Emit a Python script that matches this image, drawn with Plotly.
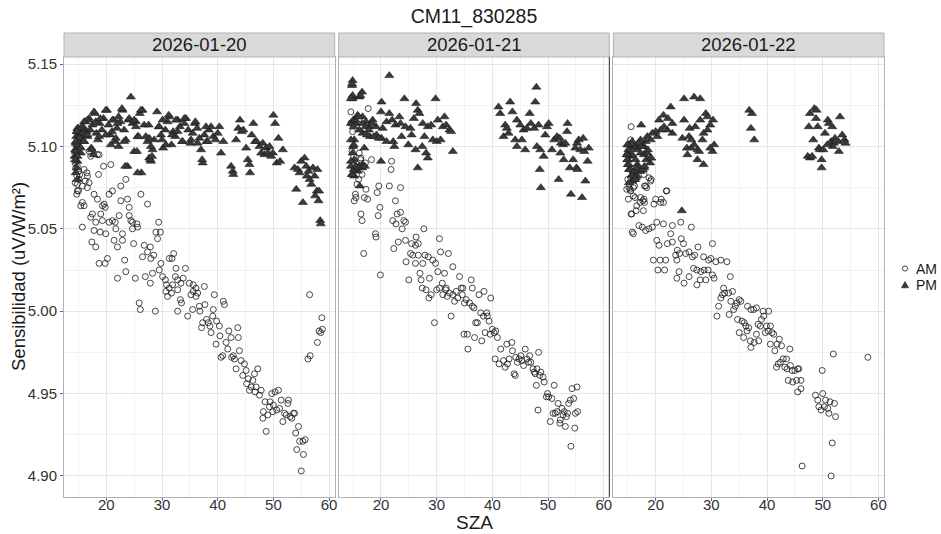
import plotly.graph_objects as go

title_text = "CM11_830285"
dates = ["2026-01-20", "2026-01-21", "2026-01-22"]
x_ticks = [20, 30, 40, 50, 60]
y_ticks = [4.90, 4.95, 5.00, 5.05, 5.10, 5.15]
legend_labels = ["AM", "PM"]

# ---- 2026-01-20 ----
am_0120 = [
    (14.4, 5.090), (14.5, 5.087), (14.7, 5.082), (14.4, 5.078), (15.1, 5.080), (15.2, 5.083), (14.8, 5.077), (15.0, 5.073),
    (14.8, 5.088), (15.0, 5.085), (16.0, 5.086), (16.5, 5.084), (16.6, 5.082), (16.9, 5.078), (16.6, 5.075), (16.2, 5.079),
    (15.7, 5.076), (14.8, 5.073), (14.7, 5.071), (15.7, 5.066), (16.0, 5.064), (15.4, 5.064),
    (16.9, 5.097), (17.2, 5.094), (18.7, 5.095), (18.4, 5.095), (19.5, 5.088), (20.8, 5.089), (18.6, 5.083),
    (17.8, 5.071), (18.4, 5.068), (19.3, 5.064), (19.8, 5.063), (19.6, 5.065), (20.5, 5.071), (21.1, 5.073), (22.6, 5.076),
    (23.5, 5.080), (23.8, 5.068), (22.6, 5.067), (24.1, 5.063), (26.2, 5.071), (27.4, 5.065),
    (19.0, 5.059), (17.5, 5.059), (17.2, 5.057), (18.1, 5.054), (19.3, 5.055), (20.5, 5.054), (21.1, 5.055), (21.6, 5.054),
    (22.3, 5.058), (24.1, 5.058), (24.4, 5.055), (24.7, 5.054), (25.5, 5.053), (29.4, 5.054),
    (15.7, 5.051), (17.8, 5.049), (18.9, 5.048), (19.9, 5.047), (21.7, 5.050), (22.9, 5.047), (24.7, 5.050), (25.6, 5.051),
    (28.9, 5.048), (29.7, 5.048), (29.2, 5.044),
    (17.4, 5.042), (18.1, 5.039), (21.4, 5.043), (22.9, 5.043), (22.0, 5.039), (24.9, 5.041), (26.8, 5.040), (27.9, 5.039),
    (27.4, 5.036), (26.5, 5.033), (28.0, 5.032), (28.5, 5.034), (29.8, 5.029), (31.3, 5.032), (32.1, 5.035), (31.8, 5.032),
    (18.7, 5.029), (19.8, 5.029), (20.2, 5.032), (23.3, 5.031),
    (22.0, 5.020), (23.5, 5.024), (25.2, 5.020), (27.0, 5.021), (27.9, 5.017), (28.3, 5.023), (29.5, 5.025), (30.1, 5.021),
    (30.6, 5.019), (30.8, 5.016), (31.3, 5.014), (32.5, 5.026), (32.4, 5.021), (32.8, 5.019), (33.4, 5.017), (33.8, 5.020),
    (34.2, 5.026), (34.9, 5.017), (35.6, 5.016), (36.1, 5.014), (37.6, 5.015), (31.9, 5.016), (32.8, 5.013),
    (25.9, 5.005), (26.1, 5.001), (28.8, 5.000), (30.7, 5.012), (31.0, 5.009), (31.7, 5.011), (32.8, 5.000),
    (33.3, 5.007), (33.5, 5.005), (34.6, 4.997), (35.2, 5.010), (35.5, 5.001), (35.6, 5.012), (36.1, 5.009), (36.4, 5.011),
    (36.7, 5.003), (36.8, 5.000), (37.1, 4.990), (37.3, 4.993), (37.7, 5.004), (38.0, 4.995), (38.3, 4.993), (38.6, 4.991),
    (38.8, 4.987), (39.1, 4.997), (39.2, 5.001), (39.4, 5.010), (39.7, 4.980), (39.8, 4.994), (40.3, 4.991), (40.4, 4.985),
    (40.6, 4.972), (40.9, 4.973), (41.0, 5.006), (41.2, 5.004), (41.5, 4.981), (41.8, 4.977), (42.0, 4.988), (42.4, 4.984),
    (42.5, 4.972), (42.8, 4.973), (43.0, 4.971), (43.3, 4.965), (43.6, 4.990), (43.7, 4.984), (43.9, 4.976), (44.2, 4.970),
    (44.5, 4.961), (44.8, 4.968), (45.1, 4.964), (45.2, 4.956), (45.5, 4.959), (45.7, 4.952), (46.0, 4.954), (46.3, 4.958),
    (46.6, 4.962), (46.7, 4.951), (46.9, 4.954), (47.2, 4.965), (47.5, 4.949), (47.8, 4.952), (48.1, 4.935), (48.2, 4.939),
    (48.5, 4.945), (48.7, 4.927), (49.0, 4.937), (49.3, 4.942), (49.4, 4.945), (49.7, 4.950), (49.9, 4.939), (50.0, 4.943),
    (50.3, 4.951), (50.6, 4.940), (50.9, 4.952), (51.1, 4.941), (51.4, 4.946), (51.7, 4.933), (52.0, 4.938), (52.3, 4.937),
    (52.6, 4.944), (52.7, 4.946), (53.0, 4.936), (53.3, 4.935), (53.6, 4.938), (53.8, 4.938), (54.0, 4.926), (54.2, 4.916),
    (54.5, 4.930), (54.7, 4.921), (55.0, 4.903), (55.3, 4.921), (55.4, 4.913), (55.7, 4.922), (56.2, 4.971), (56.5, 5.010),
    (56.6, 4.973), (57.9, 4.981), (58.2, 4.988), (58.5, 4.987), (58.7, 4.996), (58.8, 4.989),
]
pm_0120 = [
    (14.3, 5.094), (14.4, 5.098), (14.5, 5.102), (14.6, 5.106), (14.7, 5.109), (14.8, 5.091), (14.9, 5.104), (15.0, 5.111),
    (15.1, 5.107), (15.2, 5.100), (15.3, 5.110), (15.4, 5.096), (15.5, 5.105), (15.6, 5.108), (15.8, 5.112), (16.0, 5.103),
    (16.2, 5.115), (16.4, 5.109), (16.6, 5.106), (16.9, 5.117), (17.1, 5.110), (17.3, 5.099), (17.5, 5.113), (17.7, 5.095),
    (17.9, 5.120), (18.2, 5.108), (18.5, 5.104), (18.8, 5.114), (19.2, 5.110), (19.5, 5.117), (20.1, 5.122), (20.4, 5.113),
    (20.7, 5.107), (21.0, 5.109), (21.3, 5.116), (21.6, 5.103), (21.9, 5.111), (22.2, 5.100), (22.5, 5.115), (22.9, 5.122),
    (23.2, 5.110), (23.5, 5.104), (23.8, 5.088), (24.0, 5.116), (24.4, 5.130), (24.7, 5.114), (25.0, 5.097), (25.3, 5.115),
    (25.6, 5.106), (26.0, 5.120), (26.3, 5.084), (26.5, 5.122), (26.8, 5.113), (27.1, 5.106), (27.4, 5.103), (27.7, 5.093),
    (28.0, 5.091), (28.3, 5.098), (28.6, 5.104), (29.1, 5.121), (29.4, 5.112), (29.8, 5.107), (30.2, 5.099), (30.6, 5.110),
    (31.0, 5.115), (31.3, 5.118), (31.7, 5.101), (32.0, 5.109), (32.4, 5.106), (32.8, 5.116), (33.2, 5.112), (33.6, 5.103),
    (34.0, 5.114), (34.3, 5.117), (34.7, 5.110), (35.1, 5.102), (35.5, 5.108), (35.9, 5.114), (36.3, 5.111), (36.7, 5.105),
    (37.0, 5.098), (37.3, 5.090), (37.6, 5.107), (38.0, 5.103), (38.4, 5.110), (38.8, 5.112), (39.2, 5.106), (39.6, 5.104),
    (40.0, 5.108), (40.3, 5.112), (40.6, 5.096), (41.0, 5.103),
    (17.8, 5.121), (19.9, 5.122), (22.8, 5.123), (26.2, 5.122), (31.2, 5.119), (16.6, 5.116), (16.0, 5.115), (18.1, 5.115),
    (18.9, 5.117), (21.1, 5.116), (22.0, 5.114), (22.2, 5.118), (24.1, 5.117), (25.0, 5.116), (25.3, 5.112), (27.6, 5.113),
    (29.5, 5.112), (30.1, 5.116), (32.5, 5.116), (34.0, 5.117), (36.0, 5.115), (37.9, 5.112), (14.8, 5.111), (15.4, 5.111),
    (14.7, 5.109), (15.7, 5.108), (16.6, 5.107), (15.1, 5.105), (14.5, 5.103), (16.0, 5.103), (14.8, 5.101), (15.4, 5.099),
    (14.5, 5.097), (14.8, 5.094), (14.4, 5.092), (17.4, 5.098), (18.7, 5.106), (19.9, 5.107), (20.8, 5.101), (21.7, 5.105),
    (23.2, 5.103), (23.4, 5.088), (25.5, 5.097), (25.6, 5.084), (25.8, 5.106), (27.7, 5.105), (28.0, 5.100), (27.9, 5.092),
    (28.2, 5.094), (30.0, 5.104), (30.7, 5.101), (31.8, 5.107), (32.8, 5.109), (33.7, 5.103), (35.2, 5.104), (36.4, 5.102),
    (37.2, 5.092), (38.2, 5.103), (14.5, 5.084), (14.8, 5.080), (14.7, 5.087),
    (42.4, 5.088), (42.7, 5.085), (42.8, 5.083), (43.3, 5.104), (43.7, 5.111), (44.0, 5.116), (44.3, 5.109), (44.6, 5.110),
    (45.1, 5.099), (45.4, 5.092), (45.7, 5.089), (45.8, 5.084), (46.1, 5.107), (46.4, 5.114), (46.7, 5.103), (47.0, 5.103),
    (47.5, 5.100), (47.8, 5.096), (48.1, 5.102), (48.4, 5.095), (48.7, 5.099), (49.0, 5.096), (49.3, 5.100), (49.6, 5.094),
    (49.9, 5.096), (50.0, 5.119), (50.3, 5.114), (50.6, 5.090), (50.9, 5.105), (51.2, 5.091), (51.7, 5.098),
    (53.8, 5.087), (54.1, 5.074), (54.4, 5.086), (54.7, 5.084), (55.0, 5.091), (55.3, 5.066), (55.6, 5.093), (55.9, 5.088),
    (56.0, 5.082), (56.3, 5.085), (56.5, 5.080), (56.8, 5.077), (57.1, 5.087), (57.4, 5.082), (57.5, 5.070), (57.8, 5.073),
    (57.9, 5.086), (58.1, 5.067), (58.2, 5.073), (58.4, 5.055), (58.5, 5.053),
]

# ---- 2026-01-21 ----
am_0121 = [
    (14.6, 5.121), (14.6, 5.114), (14.9, 5.109), (17.7, 5.123), (14.8, 5.097), (15.1, 5.094), (16.1, 5.096), (16.4, 5.093),
    (17.2, 5.090), (16.9, 5.088), (16.3, 5.092), (18.3, 5.092), (16.6, 5.083), (16.0, 5.080), (15.7, 5.077), (15.4, 5.071),
    (15.2, 5.067), (17.3, 5.074), (17.0, 5.069), (17.6, 5.068), (15.5, 5.069), (21.9, 5.091), (21.8, 5.086), (19.6, 5.076),
    (21.5, 5.076), (23.5, 5.075), (19.3, 5.072), (22.6, 5.067), (19.8, 5.063), (19.5, 5.058), (16.4, 5.059), (16.6, 5.055),
    (22.9, 5.059), (23.5, 5.060), (22.1, 5.055), (22.7, 5.053), (24.1, 5.055), (24.4, 5.054), (23.8, 5.050), (27.7, 5.050),
    (19.0, 5.047), (19.1, 5.045), (26.3, 5.045), (23.1, 5.042), (24.4, 5.043), (25.5, 5.041), (26.2, 5.040), (26.7, 5.041),
    (30.5, 5.044), (22.3, 5.038), (16.9, 5.035), (25.3, 5.035), (25.7, 5.034), (26.7, 5.034), (27.9, 5.034), (28.5, 5.033),
    (30.7, 5.036), (32.1, 5.035), (24.5, 5.030), (26.2, 5.029), (27.5, 5.029), (29.3, 5.031), (29.8, 5.029), (32.9, 5.027),
    (19.9, 5.022), (27.0, 5.023), (30.2, 5.024), (31.4, 5.023), (34.1, 5.021), (36.2, 5.019), (25.0, 5.019), (27.2, 5.019),
    (28.7, 5.020), (31.0, 5.017), (27.4, 5.014), (30.5, 5.014), (31.7, 5.014), (34.7, 5.014), (36.4, 5.014),
    (28.1, 5.013), (28.6, 5.008), (29.0, 5.010), (29.6, 4.993), (30.0, 5.013), (31.1, 5.010), (31.6, 5.013),
    (31.9, 5.009), (32.3, 5.011), (32.6, 4.997), (32.9, 5.010), (33.2, 5.006), (33.5, 5.012), (33.8, 5.008), (34.4, 5.014),
    (34.6, 5.010), (34.9, 4.986), (35.0, 5.005), (35.3, 5.007), (35.5, 4.986), (35.6, 4.977), (35.9, 5.005), (36.4, 5.003),
    (36.7, 5.002), (36.8, 4.984), (37.0, 4.993), (37.3, 4.993), (37.6, 5.010), (37.9, 4.999), (38.1, 4.982), (38.4, 4.997),
    (38.5, 5.012), (38.7, 4.987), (39.0, 4.999), (39.1, 4.997), (39.4, 4.994), (39.6, 4.986), (39.7, 5.008), (40.0, 4.989),
    (40.3, 4.987), (40.5, 4.971), (40.6, 4.988), (40.9, 4.984), (41.2, 4.968), (41.5, 4.977), (42.0, 4.970), (42.3, 4.966),
    (42.6, 4.980), (42.7, 4.968), (43.0, 4.971), (43.5, 4.981), (43.6, 4.976), (43.9, 4.962), (44.1, 4.961), (44.2, 4.972),
    (44.5, 4.969), (44.8, 4.971), (45.1, 4.973), (45.3, 4.970), (45.6, 4.967), (45.9, 4.977), (46.2, 4.971), (46.5, 4.969),
    (46.7, 4.973), (46.9, 4.969), (47.3, 4.965), (47.5, 4.963), (47.7, 4.962), (47.9, 4.955), (48.0, 4.965), (48.2, 4.940),
    (48.3, 4.975), (48.5, 4.961), (48.7, 4.963), (49.1, 4.960), (49.3, 4.957), (49.7, 4.948), (49.9, 4.950), (50.1, 4.948),
    (50.4, 4.933), (50.7, 4.947), (50.9, 4.938), (51.1, 4.955), (51.3, 4.938), (51.6, 4.939), (51.8, 4.944), (52.1, 4.932),
    (52.2, 4.934), (52.5, 4.941), (52.7, 4.937), (52.9, 4.939), (53.1, 4.930), (53.3, 4.936), (53.5, 4.938), (53.7, 4.944),
    (54.0, 4.946), (54.1, 4.918), (54.3, 4.953), (54.6, 4.947), (54.8, 4.929), (54.9, 4.938), (55.2, 4.954), (55.3, 4.939),
]
pm_0121 = [
    (14.9, 5.140), (14.8, 5.137), (14.8, 5.130), (14.9, 5.129), (16.1, 5.130), (16.6, 5.133), (21.5, 5.143), (20.1, 5.127),
    (24.2, 5.129), (26.3, 5.126), (29.8, 5.129), (20.0, 5.121), (26.6, 5.122), (26.9, 5.120), (31.4, 5.118), (23.3, 5.118),
    (21.5, 5.120), (15.8, 5.119), (16.7, 5.118), (15.0, 5.116), (15.5, 5.114), (17.3, 5.115), (18.5, 5.116), (17.9, 5.112),
    (19.1, 5.112), (20.3, 5.111), (21.0, 5.115), (22.0, 5.116), (22.6, 5.113), (23.5, 5.114), (24.4, 5.112), (25.3, 5.111),
    (25.9, 5.117), (27.5, 5.114), (28.4, 5.112), (29.0, 5.113), (30.2, 5.116), (31.1, 5.112), (31.7, 5.113), (32.3, 5.110),
    (32.6, 5.109), (16.7, 5.108), (16.1, 5.110), (18.0, 5.106), (19.2, 5.107), (20.1, 5.105), (21.0, 5.103), (22.2, 5.103),
    (22.4, 5.100), (23.7, 5.106), (24.9, 5.101), (25.5, 5.107), (26.2, 5.098), (27.4, 5.100), (27.8, 5.106), (29.3, 5.104),
    (30.0, 5.103), (30.7, 5.104), (28.1, 5.096), (28.4, 5.093), (32.9, 5.097), (20.0, 5.091), (26.6, 5.087), (17.0, 5.099),
    (15.2, 5.104), (15.0, 5.100), (14.9, 5.096), (15.2, 5.092), (15.5, 5.088), (16.1, 5.088), (16.7, 5.089), (14.8, 5.083),
    (15.2, 5.082), (16.2, 5.076), (15.8, 5.085),
    (14.8, 5.138), (14.9, 5.131), (14.6, 5.129), (16.3, 5.131), (14.6, 5.114), (15.1, 5.112), (15.4, 5.116), (16.0, 5.118),
    (16.6, 5.114), (17.2, 5.112), (17.8, 5.110), (18.4, 5.114), (17.5, 5.107), (18.7, 5.106), (19.6, 5.105), (14.6, 5.104),
    (15.1, 5.101), (14.6, 5.088), (15.1, 5.086), (14.8, 5.083), (15.5, 5.088), (16.0, 5.087), (16.6, 5.087), (17.1, 5.088),
    (14.6, 5.091),
    (41.1, 5.124), (41.4, 5.120), (43.2, 5.127), (43.6, 5.121), (42.3, 5.113), (42.6, 5.111), (42.0, 5.106), (42.9, 5.108),
    (44.4, 5.116), (45.0, 5.113), (45.6, 5.110), (46.2, 5.111), (46.7, 5.120), (46.9, 5.114), (47.5, 5.111), (47.9, 5.136),
    (47.7, 5.127), (48.3, 5.113), (44.1, 5.104), (44.4, 5.100), (45.3, 5.104), (45.9, 5.098), (48.0, 5.100), (48.6, 5.098),
    (48.5, 5.086), (48.7, 5.075), (49.2, 5.094), (49.5, 5.107), (49.8, 5.112), (50.1, 5.114), (50.7, 5.098), (51.1, 5.104),
    (51.6, 5.106), (52.1, 5.105), (52.3, 5.102), (52.7, 5.101), (53.1, 5.102), (51.9, 5.080), (52.2, 5.096), (52.8, 5.092),
    (53.4, 5.109), (53.5, 5.114), (53.9, 5.087), (54.1, 5.071), (54.5, 5.092), (54.9, 5.099), (55.2, 5.102), (55.5, 5.104),
    (55.8, 5.098), (56.1, 5.069), (56.3, 5.105), (56.5, 5.097), (56.7, 5.079), (57.1, 5.091), (57.3, 5.099), (55.1, 5.087),
    (55.3, 5.086),
]

# ---- 2026-01-22 ----
am_0122 = [
    (15.6, 5.112), (15.5, 5.104), (15.0, 5.080), (17.9, 5.083), (18.8, 5.081), (19.1, 5.079), (18.2, 5.076), (15.4, 5.074),
    (16.2, 5.076), (16.0, 5.070), (22.0, 5.073), (17.3, 5.069), (17.9, 5.068), (17.2, 5.066), (16.6, 5.064), (15.6, 5.059),
    (17.8, 5.061), (19.7, 5.065), (20.0, 5.068), (21.4, 5.066), (21.0, 5.068), (24.5, 5.054), (26.4, 5.051), (17.0, 5.052),
    (17.6, 5.051), (18.2, 5.049), (18.8, 5.050), (19.4, 5.051), (20.2, 5.054), (21.4, 5.053), (23.0, 5.052), (16.0, 5.047),
    (22.7, 5.047), (20.2, 5.043), (20.6, 5.040), (22.1, 5.041), (23.0, 5.042), (24.6, 5.044), (25.0, 5.041), (27.6, 5.039),
    (30.2, 5.041), (23.9, 5.037), (24.3, 5.035), (23.6, 5.034), (25.4, 5.035), (26.0, 5.036), (26.6, 5.033), (27.0, 5.034),
    (28.6, 5.033), (29.5, 5.031), (29.9, 5.032), (30.8, 5.030), (31.7, 5.031), (32.8, 5.030), (19.6, 5.031), (20.8, 5.031),
    (21.8, 5.031), (20.4, 5.025), (21.6, 5.025), (23.8, 5.031), (24.2, 5.024), (26.0, 5.021), (26.8, 5.026), (27.4, 5.025),
    (28.1, 5.024), (28.7, 5.025), (29.4, 5.025), (30.2, 5.022), (30.5, 5.020), (28.0, 5.019), (29.0, 5.019), (25.1, 5.017),
    (27.4, 5.016), (23.8, 5.020), (32.2, 5.014), (33.4, 5.021),
    (14.8, 5.074), (15.2, 5.075), (15.5, 5.073), (16.0, 5.075), (16.3, 5.069), (15.1, 5.068), (17.7, 5.067), (18.0, 5.066),
    (16.5, 5.061), (15.7, 5.059), (21.9, 5.073), (20.9, 5.066), (15.8, 5.048), (18.4, 5.075), (18.0, 5.076), (19.2, 5.080),
    (32.0, 5.010), (31.7, 5.008), (32.4, 5.011), (33.1, 5.011), (33.8, 5.012), (31.3, 5.003), (31.0, 4.997), (33.2, 4.998),
    (33.5, 5.006), (34.0, 5.001), (34.3, 5.003), (34.6, 5.005), (35.0, 5.007), (35.3, 5.006), (34.7, 4.995), (35.5, 4.994),
    (35.9, 4.993), (36.2, 4.991), (36.4, 4.988), (36.7, 4.990), (35.0, 4.987), (35.8, 4.984), (36.5, 5.003), (37.1, 5.001),
    (37.6, 5.001), (38.1, 5.002), (37.0, 4.982), (37.1, 4.978), (37.7, 4.981), (38.5, 4.982), (38.1, 4.986), (38.4, 4.992),
    (38.8, 4.991), (39.0, 4.995), (39.3, 5.000), (39.4, 4.997), (39.7, 4.987), (39.9, 4.991), (40.2, 4.988), (40.3, 5.000),
    (40.6, 4.991), (40.9, 4.987), (41.2, 4.986), (40.6, 4.980), (41.4, 4.976), (41.8, 4.980), (42.2, 4.983), (42.6, 4.979),
    (44.1, 4.977), (41.7, 4.966), (42.0, 4.968), (42.4, 4.969), (42.9, 4.971), (43.5, 4.971), (43.2, 4.966), (43.6, 4.965),
    (44.2, 4.967), (44.5, 4.964), (45.0, 4.964), (45.5, 4.965), (45.7, 4.965), (43.8, 4.958), (44.6, 4.957), (45.3, 4.958),
    (46.1, 4.958), (45.5, 4.951), (46.1, 4.953), (46.3, 4.906), (48.7, 4.949), (49.1, 4.946), (49.3, 4.942), (49.7, 4.940),
    (49.9, 4.964), (50.0, 4.950), (50.3, 4.942), (50.5, 4.946), (50.9, 4.941), (51.1, 4.938), (51.3, 4.945), (51.5, 4.900),
    (51.7, 4.920), (51.9, 4.974), (52.1, 4.944), (52.3, 4.936), (58.1, 4.972),
]
pm_0122 = [
    (25.1, 5.129), (26.9, 5.130), (28.0, 5.129), (22.7, 5.124), (21.4, 5.119), (17.4, 5.113), (20.6, 5.116), (22.2, 5.117),
    (23.0, 5.114), (25.1, 5.116), (26.1, 5.111), (27.1, 5.112), (28.0, 5.116), (29.0, 5.120), (29.3, 5.118), (30.3, 5.116),
    (29.8, 5.113), (29.3, 5.110), (28.6, 5.108), (28.4, 5.104), (24.8, 5.105), (26.0, 5.106), (26.4, 5.104), (25.6, 5.099),
    (26.4, 5.099), (26.9, 5.101), (27.5, 5.098), (27.8, 5.097), (25.7, 5.095), (27.5, 5.092), (28.6, 5.089), (30.5, 5.101),
    (30.2, 5.097), (29.8, 5.099), (23.0, 5.108), (22.1, 5.110), (21.5, 5.112), (20.9, 5.110), (20.0, 5.109), (20.3, 5.106),
    (19.4, 5.108), (18.5, 5.106), (19.1, 5.104), (18.2, 5.103), (17.3, 5.104), (17.9, 5.100), (17.0, 5.101), (16.7, 5.098),
    (16.1, 5.100), (15.8, 5.103), (15.5, 5.099), (15.2, 5.101), (15.0, 5.096), (15.4, 5.094), (15.8, 5.095), (16.4, 5.092),
    (17.3, 5.096), (17.9, 5.095), (18.5, 5.096), (19.1, 5.093), (19.0, 5.090), (17.9, 5.087), (17.2, 5.085), (16.7, 5.089),
    (16.1, 5.085), (16.7, 5.082), (16.2, 5.080), (15.8, 5.079), (15.2, 5.078), (14.9, 5.095), (15.0, 5.092), (15.2, 5.086),
    (15.0, 5.089), (24.7, 5.061),
    (14.9, 5.101), (15.1, 5.098), (14.8, 5.095), (14.9, 5.092), (15.2, 5.089), (15.5, 5.086), (15.8, 5.083), (16.1, 5.085),
    (16.4, 5.081), (16.8, 5.087), (17.2, 5.085), (17.7, 5.086), (18.0, 5.088), (18.3, 5.092), (18.6, 5.098), (17.5, 5.100),
    (16.9, 5.102), (19.2, 5.093), (15.7, 5.082), (16.3, 5.080),
    (36.8, 5.122), (37.3, 5.120), (37.1, 5.111), (37.7, 5.104),
    (48.5, 5.123), (48.9, 5.122), (47.7, 5.120), (48.8, 5.117), (47.5, 5.112), (49.1, 5.112), (50.9, 5.116), (51.1, 5.114),
    (51.7, 5.112), (53.1, 5.118), (50.4, 5.108), (48.3, 5.104), (49.3, 5.099), (49.5, 5.098), (50.1, 5.098), (47.3, 5.094),
    (47.7, 5.093), (48.1, 5.094), (49.8, 5.092), (49.8, 5.087), (51.5, 5.103), (52.2, 5.105), (52.8, 5.103), (53.5, 5.107),
    (53.9, 5.104), (54.1, 5.102), (52.9, 5.097), (52.0, 5.102), (51.8, 5.100), (50.8, 5.101),
]

panels = [(dates[0], am_0120, pm_0120), (dates[1], am_0121, pm_0121), (dates[2], am_0122, pm_0122)]

FONT = "Liberation Sans, Arial, Helvetica, sans-serif"
AM_STYLE = dict(symbol="circle-open", size=6, color="#1a1a1a", line=dict(width=0.8, color="#1a1a1a"))
PM_STYLE = dict(symbol="triangle-up", size=8, color="#3a3a3a", line=dict(width=0.5, color="#111111"))

W, H = 941, 534
ML, MR, MT, MB = 64, 57, 57, 37
PW, PH = W - ML - MR, H - MT - MB   # 820 x 440

fig = go.Figure()
gap = 4 / PW
w = (1 - 2 * gap) / 3
domains = [[0, w], [w + gap, 2 * w + gap], [2 * (w + gap), 1]]

for i, (d, am, pm) in enumerate(panels):
    xa = "x" if i == 0 else f"x{i + 1}"
    ya = "y" if i == 0 else f"y{i + 1}"
    fig.add_trace(go.Scatter(
        x=[p[0] for p in am], y=[p[1] for p in am], mode="markers", name="AM",
        showlegend=False, xaxis=xa, yaxis=ya, marker=AM_STYLE,
    ))
    fig.add_trace(go.Scatter(
        x=[p[0] for p in pm], y=[p[1] for p in pm], mode="markers", name="PM",
        showlegend=False, xaxis=xa, yaxis=ya, marker=PM_STYLE,
    ))

axis_common = dict(
    showgrid=True, gridcolor="#E6E6E6", gridwidth=1, zeroline=False,
    showline=True, linecolor="#B3B3B3", linewidth=1, mirror=True,
    tickfont=dict(family=FONT, size=15, color="#333333"),
)
layout = dict(
    width=W, height=H,
    margin=dict(l=ML, r=MR, t=MT, b=MB, autoexpand=False),
    paper_bgcolor="white", plot_bgcolor="white",
    font=dict(family=FONT, color="#1a1a1a"),
    title=dict(text=title_text, x=0.5, xref="paper", xanchor="center", y=1 - 16 / H, yanchor="middle",
               font=dict(family=FONT, size=19.5, color="#1a1a1a")),
    showlegend=False,
)
for i in range(3):
    k = "" if i == 0 else str(i + 1)
    layout[f"xaxis{k}"] = dict(
        axis_common, domain=domains[i], range=[12.4, 61.0], anchor=f"y{k}",
        tickmode="array", tickvals=x_ticks, ticks="outside", ticklen=3, tickcolor="#5a5ae0", tickwidth=1,
        ticklabelstandoff=-9,
        minor=dict(tickvals=[15, 25, 35, 45, 55], showgrid=True, gridcolor="#F3F3F3", gridwidth=1),
    )
    yd = dict(
        axis_common, domain=[0, 1], range=[4.8872, 5.1543], anchor=f"x{k}",
        tickmode="array", tickvals=y_ticks, ticktext=[f"{v:.2f}" for v in y_ticks],
        minor=dict(tickvals=[4.925, 4.975, 5.025, 5.075, 5.125], showgrid=True, gridcolor="#F3F3F3", gridwidth=1),
    )
    if i == 0:
        yd.update(ticks="outside", ticklen=3, tickcolor="#5a5ae0", tickwidth=1)
    else:
        yd.update(showticklabels=False, ticks="", matches="y")
    layout[f"yaxis{k}"] = yd

shapes = []
annotations = []
strip_top = 1 + 24 / PH
for i, (d, _, _) in enumerate(panels):
    xa = "x" if i == 0 else f"x{i + 1}"
    shapes.append(dict(type="rect", xref=f"{xa} domain", yref="paper", x0=0, x1=1, y0=1.0, y1=strip_top,
                       fillcolor="#D9D9D9", line=dict(color="#B3B3B3", width=1), layer="above"))
    annotations.append(dict(text=d, xref=f"{xa} domain", yref="paper", x=0.5, y=(1 + strip_top) / 2,
                            xanchor="center", yanchor="middle", showarrow=False,
                            font=dict(family=FONT, size=18.5, color="#1a1a1a")))
shapes.append(dict(type="line", xref="x2 domain", yref="y2 domain", x0=1, x1=1, y0=0, y1=1,
                   line=dict(color="#333333", width=1)))

# axis titles
annotations.append(dict(text="SZA", xref="paper", yref="paper", x=0.5, y=-(522 - 497) / PH,
                        xanchor="center", yanchor="middle", showarrow=False,
                        font=dict(family=FONT, size=19, color="#1a1a1a")))
annotations.append(dict(text="Sensibilidad (uV/W/m²)", xref="paper", yref="paper", x=(18 - 64) / PW, y=0.5,
                        xanchor="center", yanchor="middle", textangle=-90, showarrow=False,
                        font=dict(family=FONT, size=18.5, color="#1a1a1a")))

# legend (key symbols + labels) placed in the right margin
key_x = (905 - 64) / PW
key_y = [(497 - 268.5) / PH, (497 - 285) / PH]
shapes.append(dict(type="circle", xref="paper", yref="paper", xsizemode="pixel", ysizemode="pixel",
                   xanchor=key_x, yanchor=key_y[0], x0=-2.6, x1=2.6, y0=-2.6, y1=2.6,
                   line=dict(color="#1a1a1a", width=0.8), fillcolor="rgba(0,0,0,0)"))
shapes.append(dict(type="path", xref="paper", yref="paper", xsizemode="pixel", ysizemode="pixel",
                   xanchor=key_x, yanchor=key_y[1], path="M -3.6,-2.8 L 3.6,-2.8 L 0,3.6 Z",
                   line=dict(color="#111111", width=0.5), fillcolor="#3a3a3a"))
for lbl, yy in zip(legend_labels, key_y):
    annotations.append(dict(text=lbl, xref="paper", yref="paper", x=(915 - 64) / PW, y=yy,
                            xanchor="left", yanchor="middle", showarrow=False, borderpad=0,
                            font=dict(family=FONT, size=14, color="#1a1a1a")))

layout["shapes"] = shapes
layout["annotations"] = annotations

fig.update_layout(**layout)
fig.write_html("out.html", config={"displayModeBar": False},
               post_script="document.body.style.margin='0';document.body.style.overflow='hidden';")
